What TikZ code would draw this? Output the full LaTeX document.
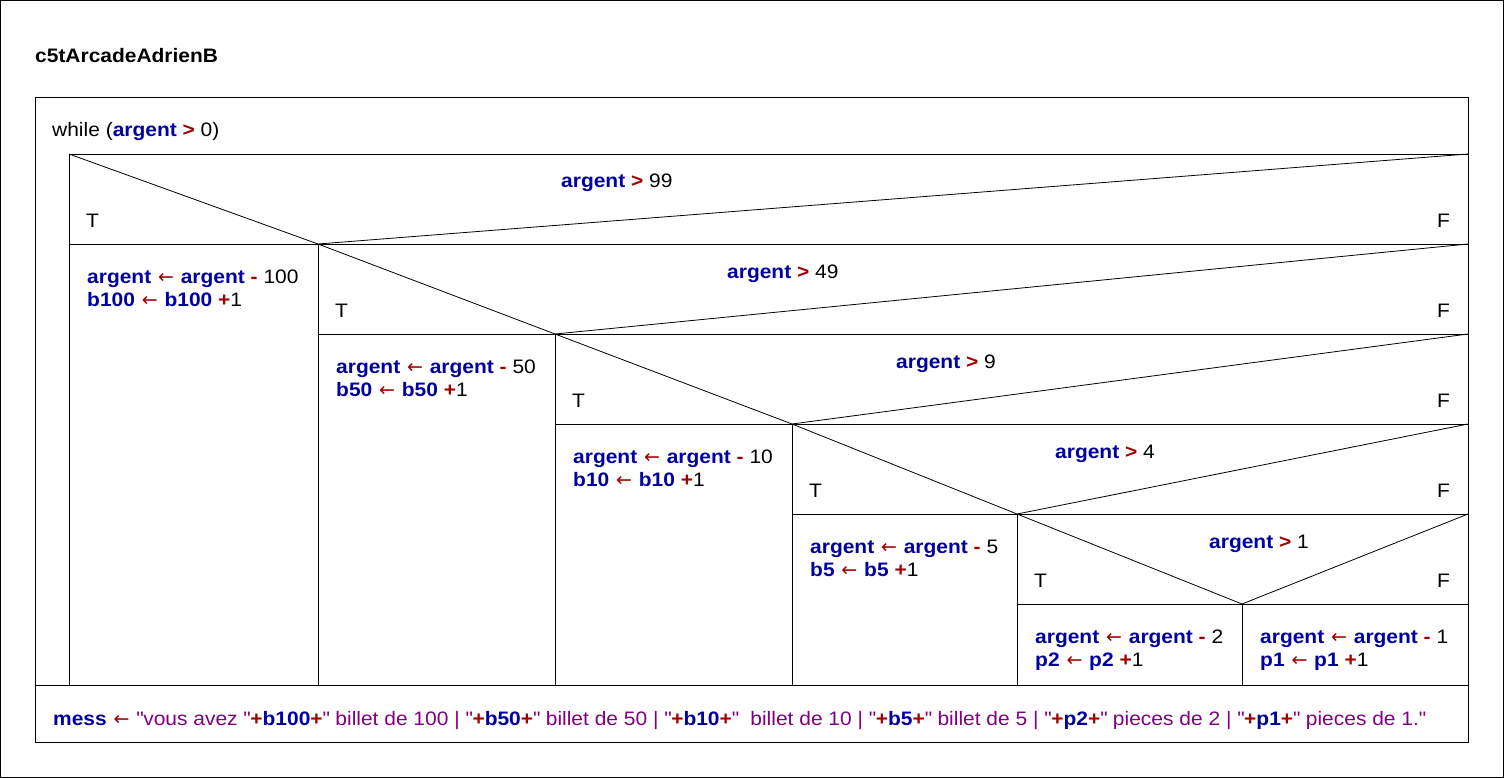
\documentclass[tikz,border=0pt]{standalone}
\usepackage{fontspec}
\setmainfont{Liberation Sans}[FakeStretch=1.075]
\newfontfamily\arrfont{DejaVu Sans}
\definecolor{varblue}{RGB}{0,0,160}
\definecolor{opred}{RGB}{160,0,0}
\definecolor{strpurple}{RGB}{128,0,128}
\newcommand\Vr[1]{\textcolor{varblue}{\textbf{#1}}}
\newcommand\Opr[1]{\textcolor{opred}{\textbf{#1}}}
\newcommand\Arr{\hspace{1pt}\textcolor{opred}{{\arrfont\fontsize{19}{19}\selectfont ←}}\hspace{1pt}}
\newcommand\Str[1]{\textcolor{strpurple}{#1}}
\newcommand\Qt{\textquotedbl}
\begin{document}
\begin{tikzpicture}[x=1pt,y=-1pt,
  frame/.style={draw=black,line width=1pt},
  thin/.style={draw=black,line width=0.8pt},
  txt/.style={anchor=base west,inner sep=0pt,font=\fontsize{19.5}{22}\selectfont},
  txtr/.style={anchor=base east,inner sep=0pt,font=\fontsize{19.5}{22}\selectfont},
  cell/.style={anchor=base west,inner sep=0pt,align=left,font=\fontsize{19.5}{22.5}\selectfont}]
\useasboundingbox (0,0) rectangle (1504,778);
\draw[frame] (0.5,0.5) rectangle (1503.5,777.5);
% title
\node[txt,font=\fontsize{19.5}{22}\selectfont\bfseries] (title) at (35,63) {c5tArcadeAdrienB};
% while box
\draw[frame] (35,98) rectangle (1468,742);
\node[txt] (while) at (52,137) {while (\Vr{argent} \Opr{>} 0)};
\draw[thin] (69,154) -- (1468,154);
\draw[thin] (69,154) -- (69,685);
\draw[thin] (35,685) -- (1468,685);
% decision rows
\coordinate (a1) at (318,244);
\coordinate (a2) at (555,334);
\coordinate (a3) at (792,424);
\coordinate (a4) at (1017,514);
\coordinate (a5) at (1242,604);
\draw[thin] (69,244) -- (1468,244);
\draw[thin] (318,334) -- (1468,334);
\draw[thin] (555,424) -- (1468,424);
\draw[thin] (792,514) -- (1468,514);
\draw[thin] (1017,604) -- (1468,604);
% vertical separators
\draw[thin] (a1) -- (318,685);
\draw[thin] (a2) -- (555,685);
\draw[thin] (a3) -- (792,685);
\draw[thin] (a4) -- (1017,685);
\draw[thin] (a5) -- (1242,685);
% diagonals
\draw[thin] (69,154) -- (a1) -- (1468,154);
\draw[thin] (318,244) -- (a2) -- (1468,244);
\draw[thin] (555,334) -- (a3) -- (1468,334);
\draw[thin] (792,424) -- (a4) -- (1468,424);
\draw[thin] (1017,514) -- (a5) -- (1468,514);
% conditions
\node[txt] (c1) at (561,188) {\Vr{argent} \Opr{>} 99};
\node[txt] (c2) at (727,278) {\Vr{argent} \Opr{>} 49};
\node[txt] (c3) at (896,368) {\Vr{argent} \Opr{>} 9};
\node[txt] (c4) at (1055,458) {\Vr{argent} \Opr{>} 4};
\node[txt] (c5) at (1209,548) {\Vr{argent} \Opr{>} 1};
% T / F
\node[txt] (t1) at (86,227) {T};
\node[txt] (t2) at (335,317) {T};
\node[txt] (t3) at (572,407) {T};
\node[txt] (t4) at (809,497) {T};
\node[txt] (t5) at (1034,587) {T};
\node[txtr] (f1) at (1450,227) {F};
\node[txtr] (f2) at (1450,317) {F};
\node[txtr] (f3) at (1450,407) {F};
\node[txtr] (f4) at (1450,497) {F};
\node[txtr] (f5) at (1450,587) {F};
% cells (base = last line)
\node[cell] (s1) at (87,306) {\Vr{argent} \Arr{} \Vr{argent} \Opr{-} 100\\\Vr{b100} \Arr{} \Vr{b100} \Opr{+}1};
\node[cell] (s2) at (336,396) {\Vr{argent} \Arr{} \Vr{argent} \Opr{-} 50\\\Vr{b50} \Arr{} \Vr{b50} \Opr{+}1};
\node[cell] (s3) at (573,486) {\Vr{argent} \Arr{} \Vr{argent} \Opr{-} 10\\\Vr{b10} \Arr{} \Vr{b10} \Opr{+}1};
\node[cell] (s4) at (810,576) {\Vr{argent} \Arr{} \Vr{argent} \Opr{-} 5\\\Vr{b5} \Arr{} \Vr{b5} \Opr{+}1};
\node[cell] (s5) at (1035,666) {\Vr{argent} \Arr{} \Vr{argent} \Opr{-} 2\\\Vr{p2} \Arr{} \Vr{p2} \Opr{+}1};
\node[cell] (s6) at (1260,666) {\Vr{argent} \Arr{} \Vr{argent} \Opr{-} 1\\\Vr{p1} \Arr{} \Vr{p1} \Opr{+}1};
% bottom statement
\node[txt] (mess) at (53,725) {\Vr{mess} \Arr{} \Str{\Qt vous avez \Qt}\Opr{+}\Vr{b100}\Opr{+}\Str{\Qt{} billet de 100 | \Qt}\Opr{+}\Vr{b50}\Opr{+}\Str{\Qt{} billet de 50 | \Qt}\Opr{+}\Vr{b10}\Opr{+}\Str{\Qt\ \ billet de 10 | \Qt}\Opr{+}\Vr{b5}\Opr{+}\Str{\Qt{} billet de 5 | \Qt}\Opr{+}\Vr{p2}\Opr{+}\Str{\Qt{} pieces de 2 | \Qt}\Opr{+}\Vr{p1}\Opr{+}\Str{\Qt{} pieces de 1.\Qt}};
\end{tikzpicture}
\end{document}
